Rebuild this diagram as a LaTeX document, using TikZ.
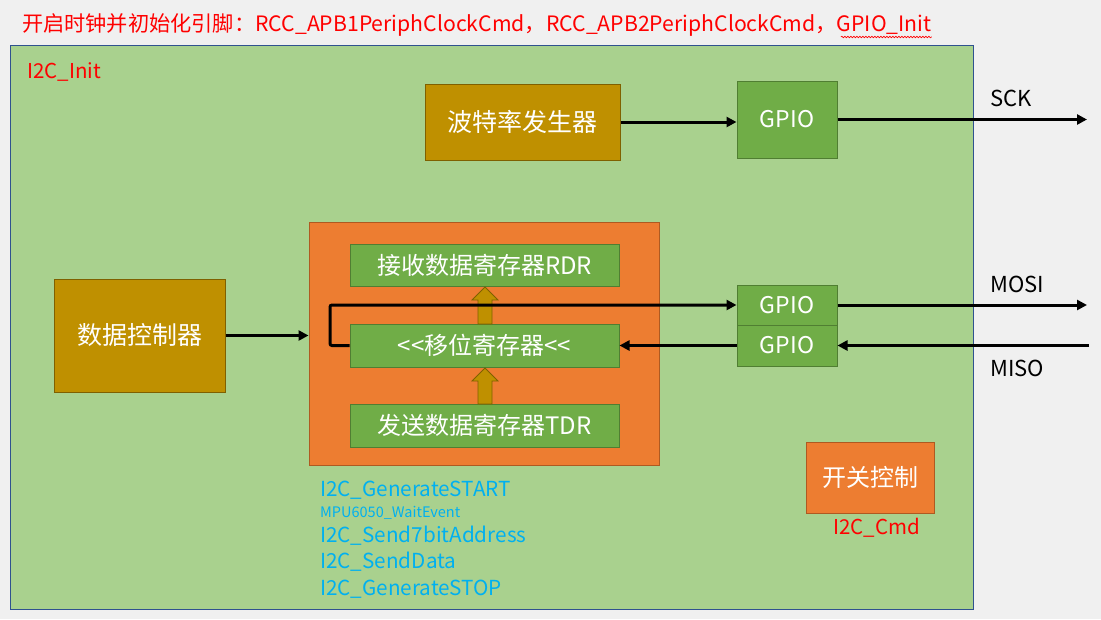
\documentclass[tikz,border=0pt]{standalone}
\usepackage{fontspec}
\setmainfont{Noto Sans CJK SC}
\usetikzlibrary{arrows.meta,decorations.pathmorphing}
\definecolor{bgc}{HTML}{F0F0F0}
\definecolor{maingreen}{HTML}{A9D18E}
\definecolor{mainedge}{HTML}{2F528F}
\definecolor{gold}{HTML}{BF9000}
\definecolor{goldedge}{HTML}{7F6000}
\definecolor{gpiogreen}{HTML}{70AD47}
\definecolor{gpioedge}{HTML}{507E32}
\definecolor{orng}{HTML}{ED7D31}
\definecolor{orngedge}{HTML}{AE5A21}
\definecolor{cyantext}{HTML}{00B0F0}
\tikzset{
  fs/.style={font=\fontsize{#1}{#1}\selectfont},
  boxbase/.style={draw, line width=1pt, inner sep=0pt, text=white},
  goldbox/.style={boxbase, fill=gold, draw=goldedge, fs=25},
  greenbox/.style={boxbase, fill=gpiogreen, draw=gpioedge, fs=23},
  orangebox/.style={boxbase, fill=orng, draw=orngedge, fs=24},
  redtext/.style={text=red, inner sep=0pt, anchor=west},
  cyanlbl/.style={text=cyantext, inner sep=0pt, anchor=west, fs=20.7},
  blacklbl/.style={text=black, inner sep=0pt, anchor=west, fs=22},
  conn/.style={line width=3pt, -{Triangle[length=10pt,width=10pt]}},
  blockarrow/.style={fill=gold, draw=goldedge, line width=0.8pt}
}
\begin{document}
\begin{tikzpicture}[x=1pt,y=-1pt]
\fill[bgc] (0,0) rectangle (1101,619);
\useasboundingbox (0,0) rectangle (1101,619);
% title
\node[redtext, fs=21.2] (title) at (22,25) {开启时钟并初始化引脚：RCC\_APB1PeriphClockCmd，RCC\_APB2PeriphClockCmd，GPIO\_Init};
\draw[red, line width=0.6pt, decorate, decoration={snake, amplitude=0.8pt, segment length=3pt}] ([xshift=-91pt,yshift=-12pt]title.east) -- ([yshift=-12pt]title.east);
% main region
\node[draw=mainedge, fill=maingreen, line width=0.8pt, minimum width=963pt, minimum height=564pt, inner sep=0pt] (main) at (491.5,327) {};
\node[redtext, fs=20.5] (init) at (27,72) {I2C\_Init};
% baud generator and GPIO
\node[goldbox, minimum width=195pt, minimum height=76pt] (baud) at (522.5,122) {波特率发生器};
\node[greenbox, minimum width=100pt, minimum height=77pt] (gpio0) at (787,119.5) {GPIO};
\draw[conn] (baud.east) -- (baud.east -| gpio0.west);
\coordinate (sckend) at (1087,119.5);
\draw[conn] (gpio0.east) -- (sckend);
\node[blacklbl] (sck) at (990,98) {SCK};
% orange container
\node[boxbase, fill=orng, draw=orngedge, minimum width=350pt, minimum height=243pt] (cont) at (484,343.5) {};
\node[greenbox, fs=24, minimum width=269pt, minimum height=42pt] (rdr) at (484.5,265) {接收数据寄存器RDR};
\node[greenbox, fs=24, minimum width=269pt, minimum height=43pt] (sr) at (484.5,345.5) {<{}<移位寄存器<{}<};
\node[greenbox, fs=24, minimum width=269pt, minimum height=43pt] (tdr) at (484.5,425.5) {发送数据寄存器TDR};
% block arrows
\draw[blockarrow] (478,404) -- (478,381) -- (472,381) -- (485,368) -- (498,381) -- (492,381) -- (492,404) -- cycle;
\draw[blockarrow] (478,324) -- (478,300) -- (472,300) -- (485,287) -- (498,300) -- (492,300) -- (492,324) -- cycle;
% data controller
\node[goldbox, minimum width=171pt, minimum height=113pt] (dc) at (139.5,335.5) {数据控制器};
\draw[conn] (dc.east) -- (dc.east -| cont.west);
% GPIO pair
\node[greenbox, minimum width=100pt, minimum height=40pt] (g1) at (787,305) {GPIO};
\node[greenbox, minimum width=100pt, minimum height=41pt] (g2) at (787,345.5) {GPIO};
\draw[conn, rounded corners=2pt] (sr.west) -- (330,345.5) |- (g1.west);
\draw[conn] (g2.west) -- (sr.east);
\coordinate (mosiend) at (1087,305);
\coordinate (misostart) at (1089,345.5);
\draw[conn] (g1.east) -- (mosiend);
\draw[conn] (misostart) -- (g2.east);
\node[blacklbl] (mosi) at (990,284) {MOSI};
\node[blacklbl] (miso) at (990,368) {MISO};
% switch control
\node[orangebox, minimum width=128pt, minimum height=71pt] (sw) at (870,477.5) {开关控制};
\node[redtext, fs=20.5] (cmd) at (833,528) {I2C\_Cmd};
% function list
\node[cyanlbl] (f1) at (320,490) {I2C\_GenerateSTART};
\node[cyanlbl, fs=14.5] (f2) at (320,513) {MPU6050\_WaitEvent};
\node[cyanlbl] (f3) at (320,536) {I2C\_Send7bitAddress};
\node[cyanlbl] (f4) at (320,562) {I2C\_SendData};
\node[cyanlbl] (f5) at (320,589) {I2C\_GenerateSTOP};
\end{tikzpicture}
\end{document}
